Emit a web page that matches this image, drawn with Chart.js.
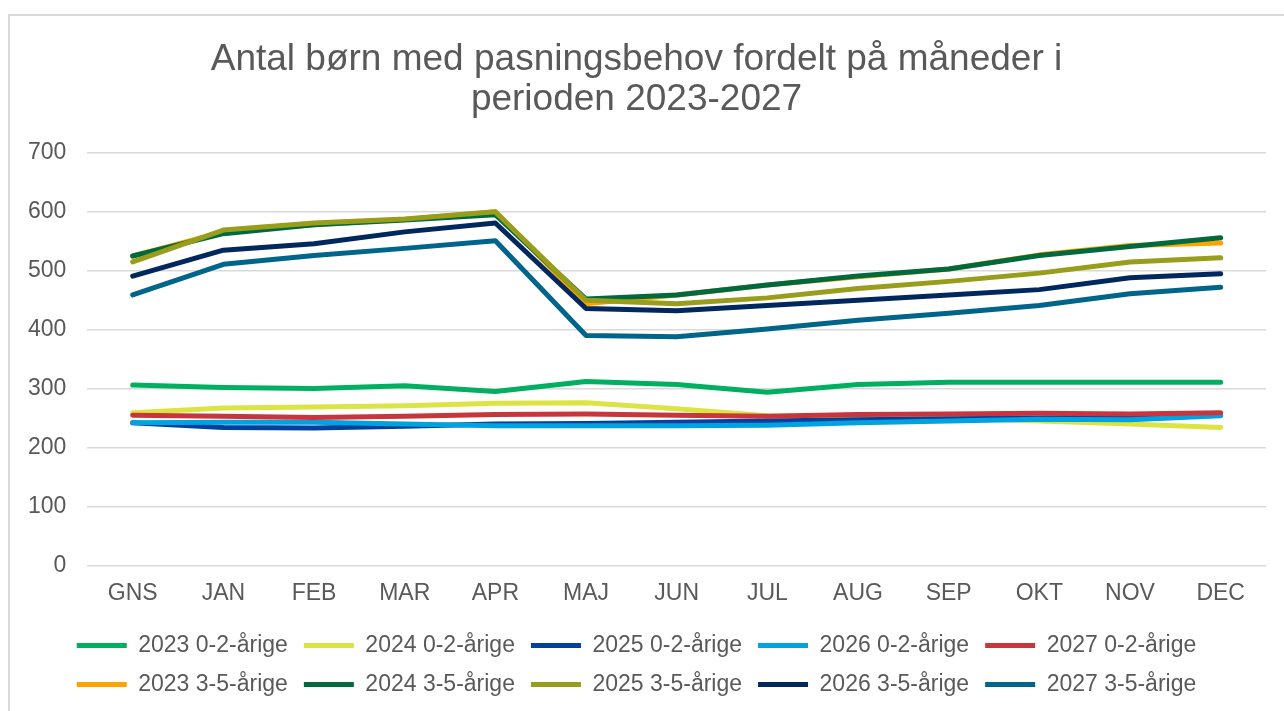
<html>
  <head>
    <script src="https://cdn.jsdelivr.net/npm/chart.js@4.4.1/dist/chart.umd.min.js"></script>
    <style>
      body { margin: 0; background: #fff; overflow: hidden; }
      #frame { position: absolute; left: 8px; top: 14px; width: 1300px; height: 720px; border: 2px solid #d9d9d9; box-sizing: border-box; }
      #myChart { position: absolute; left: 0; top: 0; }
    </style>
  </head>
  <body>
    <div id="frame"></div>
    <canvas id="myChart" width="1284" height="711"></canvas>
    <script>
      var months = ["GNS", "JAN", "FEB", "MAR", "APR", "MAJ", "JUN", "JUL", "AUG", "SEP", "OKT", "NOV", "DEC"];

      // 0-2-årige
      var y2023_02 = [306, 302, 300, 305, 295, 312, 307, 294, 307, 311, 311, 311, 311];
      var y2024_02 = [259, 267, 269, 271, 275, 276, 266, 254, 253, 250, 245, 240, 234];
      var y2025_02 = [242, 234, 233, 236, 240, 241, 243, 245, 247, 249, 250, 252, 255];
      var y2026_02 = [242, 243, 243, 240, 237, 237, 237, 238, 242, 245, 248, 247, 254];
      var y2027_02 = [255, 253, 251, 253, 256, 257, 255, 253, 256, 257, 258, 257, 259];

      // 3-5-årige
      var y2023_35 = [525, 566, 578, 587, 600, 444, 459, 476, 490, 503, 527, 543, 547];
      var y2024_35 = [525, 563, 578, 586, 595, 452, 459, 476, 491, 503, 526, 541, 556];
      var y2025_35 = [515, 569, 581, 588, 600, 450, 444, 454, 470, 482, 496, 515, 522];
      var y2026_35 = [491, 535, 546, 566, 581, 436, 432, 441, 450, 459, 468, 488, 495];
      var y2027_35 = [459, 511, 526, 538, 551, 390, 388, 401, 416, 428, 441, 461, 472];

      var seriesNames = [
        "2023 0-2-årige", "2024 0-2-årige", "2025 0-2-årige", "2026 0-2-årige", "2027 0-2-årige",
        "2023 3-5-årige", "2024 3-5-årige", "2025 3-5-årige", "2026 3-5-årige", "2027 3-5-årige"
      ];
      var seriesData = [y2023_02, y2024_02, y2025_02, y2026_02, y2027_02,
                        y2023_35, y2024_35, y2025_35, y2026_35, y2027_35];
      var colors = ["#00b060", "#dce444", "#0041a0", "#00a3e0", "#c9353d",
                    "#ffa300", "#006a3e", "#989d1b", "#00275e", "#00658a"];

      var datasets = seriesNames.map(function (name, i) {
        return {
          label: name,
          data: seriesData[i],
          borderColor: colors[i],
          backgroundColor: colors[i],
          borderWidth: 5,
          borderCapStyle: "round",
          borderJoinStyle: "round",
          pointRadius: 0,
          tension: 0,
          order: 9 - i   // later series drawn on top, like the original
        };
      });

      var textColor = "#595959";
      var fontFam = "Arial, 'Liberation Sans'";
      var ctx = document.getElementById("myChart").getContext("2d");
      var myChart = new Chart(ctx, {
        type: "line",
        data: { labels: months, datasets: datasets },
        options: {
          responsive: false,
          animation: false,
          layout: { padding: { top: 16, left: 7, right: 18, bottom: 5 } },
          plugins: {
            tooltip: { enabled: false },
            title: {
              display: true,
              text: ["Antal børn med pasningsbehov fordelt på måneder i", "perioden 2023-2027"],
              color: textColor,
              font: { family: fontFam, size: 37, weight: "normal", lineHeight: 1.08 },
              padding: { top: 24, bottom: 33 }
            },
            legend: {
              position: "bottom",
              labels: {
                color: textColor,
                font: { family: fontFam, size: 23 },
                usePointStyle: true,
                pointStyle: "line",
                pointStyleWidth: 50,
                padding: 16,
                sort: function (a, b) { return a.datasetIndex - b.datasetIndex; }
              }
            }
          },
          scales: {
            x: {
              offset: true,
              grid: { display: false, drawTicks: false },
              border: { display: false },
              ticks: { color: textColor, padding: 14, font: { family: fontFam, size: 23 } },
              afterFit: function (scale) { scale.height -= 3; }
            },
            y: {
              min: 0,
              max: 700,
              grid: { color: "#d9d9d9", lineWidth: 1.5, drawTicks: false },
              border: { display: false },
              ticks: { stepSize: 100, color: textColor, padding: 21, font: { family: fontFam, size: 23 } }
            }
          }
        }
      });
    </script>
  </body>
</html>
